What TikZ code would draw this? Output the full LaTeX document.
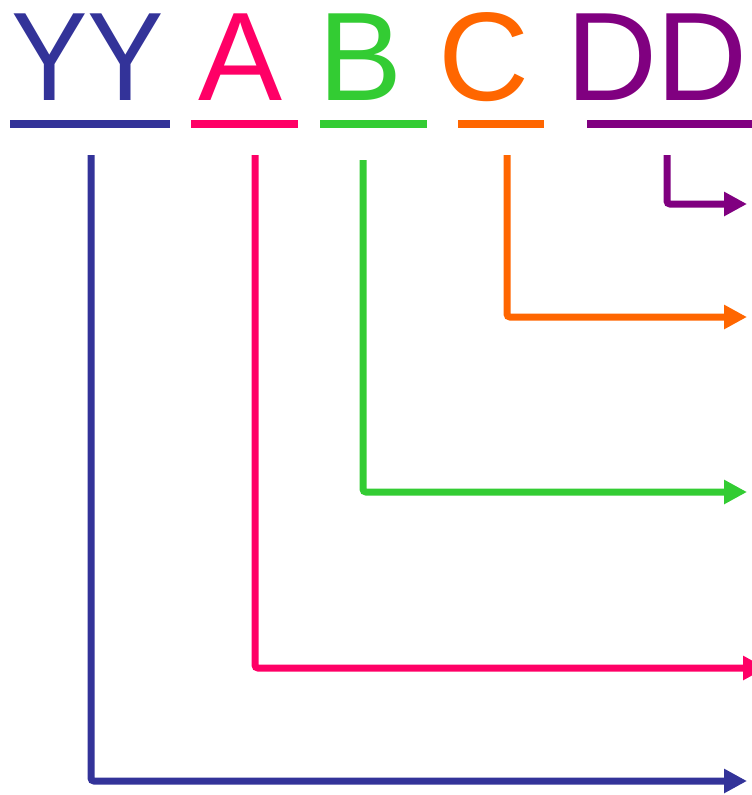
\documentclass[tikz,border=0pt]{standalone}
\usepackage{fontspec}
\setmainfont{Liberation Sans}
\usetikzlibrary{arrows.meta}
\definecolor{cblue}{RGB}{51,51,153}
\definecolor{cpink}{RGB}{255,0,102}
\definecolor{cgreen}{RGB}{51,204,51}
\definecolor{corange}{RGB}{255,102,0}
\definecolor{cpurple}{RGB}{128,0,128}

\begin{document}
\begin{tikzpicture}[x=1pt, y=-1pt,
  lt/.style={font=\fontsize{126}{126}\selectfont, anchor=base, inner sep=0pt},
  ul/.style={line width=8pt},
  cn/.style={line width=7pt, rounded corners=3pt, -{Triangle[length=23pt,width=23pt]}}]
  \useasboundingbox (0,0) rectangle (752,795);
  \foreach \n/\t/\sx/\col/\cx/\ua/\ub/\vx/\vt/\hx/\hy in {
    yy/YY/0.91/cblue/87.5/10/170/91/155/747/781,
    a/A/1/cpink/241/191/298/255/155/766/668,
    b/B/1/cgreen/361/320/427/363/160/747/492,
    c/C/1/corange/483.5/458/544/507/155/747/317,
    d/DD/1/cpurple/657/587/760/667/155/747/204} {
    \node[lt, text=\col] (\n) at (\cx,100) {\scalebox{\sx}[1]{\t}};
    \draw[ul, \col] (\ua,124) -- (\ub,124);
    \coordinate (\n s) at (\vx,\vt);
    \coordinate (\n e) at (\hx,\hy);
    \draw[cn, \col] (\n s) |- (\n e);
  }
\end{tikzpicture}
\end{document}
